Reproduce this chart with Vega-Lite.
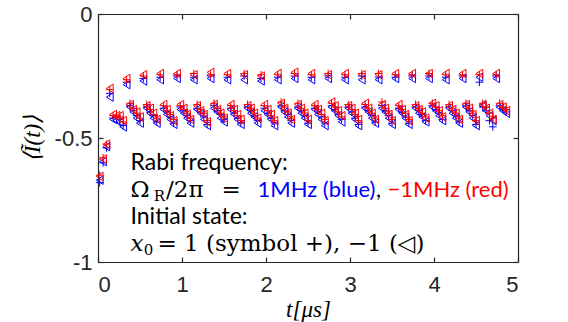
{
  "$schema": "https://vega.github.io/schema/vega-lite/v6.json",
  "width": 420,
  "height": 248,
  "autosize": {"type": "none"},
  "padding": {"left": 98, "top": 14, "right": 50, "bottom": 60},
  "background": "white",
  "config": {
    "view": {"stroke": null},
    "axis": {
      "grid": false,
      "domainColor": "#262626",
      "domainWidth": 1.2,
      "tickColor": "#262626",
      "tickWidth": 1.2,
      "tickSize": -5,
      "labelColor": "#262626",
      "labelFont": "Liberation Sans",
      "labelFontSize": 22,
      "titleColor": "#000000",
      "titleFont": "Liberation Serif",
      "titleFontSize": 23,
      "titleFontWeight": "normal",
      "titleFontStyle": "italic"
    }
  },
  "datasets": {
    "series": [
      {"t":0.02,"bp":-0.68,"bt":-0.67,"rp":-0.65,"rt":-0.655},
      {"t":0.06,"bp":-0.60,"bt":-0.595,"rp":-0.58,"rt":-0.585},
      {"t":0.10,"bp":-0.54,"bt":-0.535,"rp":-0.525,"rt":-0.525},
      {"t":0.14,"bp":-0.32,"bt":-0.335,"rp":-0.305,"rt":-0.30},
      {"t":0.18,"bp":-0.42,"bt":-0.425,"rp":-0.41,"rt":-0.405},
      {"t":0.22,"bp":-0.415,"bt":-0.43,"rp":-0.41,"rt":-0.41},
      {"t":0.26,"bp":-0.425,"bt":-0.435,"rp":-0.415,"rt":-0.41},
      {"t":0.30,"bp":-0.45,"bt":-0.455,"rp":-0.435,"rt":-0.43},
      {"t":0.34,"bp":-0.275,"bt":-0.285,"rp":-0.265,"rt":-0.26},
      {"t":0.38,"bp":-0.37,"bt":-0.375,"rp":-0.36,"rt":-0.365},
      {"t":0.42,"bp":-0.39,"bt":-0.395,"rp":-0.38,"rt":-0.385},
      {"t":0.46,"bp":-0.41,"bt":-0.42,"rp":-0.40,"rt":-0.395},
      {"t":0.50,"bp":-0.43,"bt":-0.44,"rp":-0.42,"rt":-0.415},
      {"t":0.54,"bp":-0.26,"bt":-0.27,"rp":-0.25,"rt":-0.245},
      {"t":0.58,"bp":-0.375,"bt":-0.38,"rp":-0.365,"rt":-0.37},
      {"t":0.62,"bp":-0.395,"bt":-0.40,"rp":-0.385,"rt":-0.38},
      {"t":0.66,"bp":-0.41,"bt":-0.42,"rp":-0.405,"rt":-0.40},
      {"t":0.70,"bp":-0.435,"bt":-0.44,"rp":-0.42,"rt":-0.425},
      {"t":0.74,"bp":-0.255,"bt":-0.265,"rp":-0.245,"rt":-0.24},
      {"t":0.78,"bp":-0.38,"bt":-0.385,"rp":-0.37,"rt":-0.365},
      {"t":0.82,"bp":-0.395,"bt":-0.405,"rp":-0.39,"rt":-0.385},
      {"t":0.86,"bp":-0.415,"bt":-0.425,"rp":-0.405,"rt":-0.41},
      {"t":0.90,"bp":-0.44,"bt":-0.445,"rp":-0.425,"rt":-0.43},
      {"t":0.94,"bp":-0.25,"bt":-0.26,"rp":-0.245,"rt":-0.24},
      {"t":0.98,"bp":-0.375,"bt":-0.385,"rp":-0.37,"rt":-0.365},
      {"t":1.02,"bp":-0.39,"bt":-0.40,"rp":-0.385,"rt":-0.38},
      {"t":1.06,"bp":-0.41,"bt":-0.42,"rp":-0.40,"rt":-0.405},
      {"t":1.10,"bp":-0.43,"bt":-0.44,"rp":-0.42,"rt":-0.425},
      {"t":1.14,"bp":-0.255,"bt":-0.265,"rp":-0.24,"rt":-0.245},
      {"t":1.18,"bp":-0.38,"bt":-0.385,"rp":-0.365,"rt":-0.37},
      {"t":1.22,"bp":-0.395,"bt":-0.40,"rp":-0.385,"rt":-0.39},
      {"t":1.26,"bp":-0.415,"bt":-0.425,"rp":-0.40,"rt":-0.405},
      {"t":1.30,"bp":-0.445,"bt":-0.45,"rp":-0.43,"rt":-0.435},
      {"t":1.34,"bp":-0.25,"bt":-0.26,"rp":-0.245,"rt":-0.235},
      {"t":1.38,"bp":-0.37,"bt":-0.38,"rp":-0.36,"rt":-0.365},
      {"t":1.42,"bp":-0.39,"bt":-0.395,"rp":-0.38,"rt":-0.385},
      {"t":1.46,"bp":-0.405,"bt":-0.42,"rp":-0.40,"rt":-0.40},
      {"t":1.50,"bp":-0.425,"bt":-0.435,"rp":-0.415,"rt":-0.42},
      {"t":1.54,"bp":-0.255,"bt":-0.265,"rp":-0.245,"rt":-0.24},
      {"t":1.58,"bp":-0.38,"bt":-0.385,"rp":-0.37,"rt":-0.365},
      {"t":1.62,"bp":-0.40,"bt":-0.405,"rp":-0.39,"rt":-0.385},
      {"t":1.66,"bp":-0.42,"bt":-0.425,"rp":-0.41,"rt":-0.405},
      {"t":1.70,"bp":-0.44,"bt":-0.445,"rp":-0.43,"rt":-0.425},
      {"t":1.74,"bp":-0.25,"bt":-0.265,"rp":-0.24,"rt":-0.245},
      {"t":1.78,"bp":-0.375,"bt":-0.38,"rp":-0.365,"rt":-0.37},
      {"t":1.82,"bp":-0.39,"bt":-0.40,"rp":-0.38,"rt":-0.38},
      {"t":1.86,"bp":-0.41,"bt":-0.415,"rp":-0.40,"rt":-0.40},
      {"t":1.90,"bp":-0.43,"bt":-0.44,"rp":-0.42,"rt":-0.42},
      {"t":1.94,"bp":-0.26,"bt":-0.27,"rp":-0.245,"rt":-0.25},
      {"t":1.98,"bp":-0.38,"bt":-0.39,"rp":-0.37,"rt":-0.365},
      {"t":2.02,"bp":-0.40,"bt":-0.405,"rp":-0.39,"rt":-0.385},
      {"t":2.06,"bp":-0.42,"bt":-0.425,"rp":-0.41,"rt":-0.405},
      {"t":2.10,"bp":-0.44,"bt":-0.45,"rp":-0.43,"rt":-0.43},
      {"t":2.14,"bp":-0.255,"bt":-0.265,"rp":-0.245,"rt":-0.24},
      {"t":2.18,"bp":-0.37,"bt":-0.375,"rp":-0.355,"rt":-0.36},
      {"t":2.22,"bp":-0.39,"bt":-0.395,"rp":-0.375,"rt":-0.38},
      {"t":2.26,"bp":-0.405,"bt":-0.415,"rp":-0.395,"rt":-0.40},
      {"t":2.30,"bp":-0.43,"bt":-0.44,"rp":-0.42,"rt":-0.425},
      {"t":2.34,"bp":-0.25,"bt":-0.26,"rp":-0.24,"rt":-0.235},
      {"t":2.38,"bp":-0.375,"bt":-0.38,"rp":-0.36,"rt":-0.365},
      {"t":2.42,"bp":-0.39,"bt":-0.40,"rp":-0.38,"rt":-0.38},
      {"t":2.46,"bp":-0.41,"bt":-0.42,"rp":-0.40,"rt":-0.40},
      {"t":2.50,"bp":-0.44,"bt":-0.445,"rp":-0.43,"rt":-0.425},
      {"t":2.54,"bp":-0.255,"bt":-0.265,"rp":-0.245,"rt":-0.24},
      {"t":2.58,"bp":-0.38,"bt":-0.385,"rp":-0.37,"rt":-0.365},
      {"t":2.62,"bp":-0.395,"bt":-0.405,"rp":-0.385,"rt":-0.385},
      {"t":2.66,"bp":-0.415,"bt":-0.425,"rp":-0.405,"rt":-0.40},
      {"t":2.70,"bp":-0.44,"bt":-0.45,"rp":-0.425,"rt":-0.43},
      {"t":2.74,"bp":-0.25,"bt":-0.26,"rp":-0.24,"rt":-0.245},
      {"t":2.78,"bp":-0.37,"bt":-0.375,"rp":-0.36,"rt":-0.355},
      {"t":2.82,"bp":-0.385,"bt":-0.39,"rp":-0.375,"rt":-0.37},
      {"t":2.86,"bp":-0.405,"bt":-0.41,"rp":-0.395,"rt":-0.39},
      {"t":2.90,"bp":-0.425,"bt":-0.435,"rp":-0.415,"rt":-0.41},
      {"t":2.94,"bp":-0.255,"bt":-0.265,"rp":-0.245,"rt":-0.24},
      {"t":2.98,"bp":-0.375,"bt":-0.38,"rp":-0.365,"rt":-0.37},
      {"t":3.02,"bp":-0.395,"bt":-0.40,"rp":-0.385,"rt":-0.38},
      {"t":3.06,"bp":-0.42,"bt":-0.425,"rp":-0.405,"rt":-0.40},
      {"t":3.10,"bp":-0.445,"bt":-0.45,"rp":-0.43,"rt":-0.425},
      {"t":3.14,"bp":-0.25,"bt":-0.265,"rp":-0.24,"rt":-0.245},
      {"t":3.18,"bp":-0.375,"bt":-0.38,"rp":-0.365,"rt":-0.36},
      {"t":3.22,"bp":-0.39,"bt":-0.395,"rp":-0.38,"rt":-0.38},
      {"t":3.26,"bp":-0.41,"bt":-0.42,"rp":-0.40,"rt":-0.40},
      {"t":3.30,"bp":-0.435,"bt":-0.44,"rp":-0.42,"rt":-0.425},
      {"t":3.34,"bp":-0.255,"bt":-0.265,"rp":-0.24,"rt":-0.245},
      {"t":3.38,"bp":-0.37,"bt":-0.38,"rp":-0.355,"rt":-0.365},
      {"t":3.42,"bp":-0.39,"bt":-0.395,"rp":-0.38,"rt":-0.38},
      {"t":3.46,"bp":-0.41,"bt":-0.42,"rp":-0.40,"rt":-0.405},
      {"t":3.50,"bp":-0.44,"bt":-0.445,"rp":-0.425,"rt":-0.43},
      {"t":3.54,"bp":-0.255,"bt":-0.26,"rp":-0.245,"rt":-0.24},
      {"t":3.58,"bp":-0.38,"bt":-0.385,"rp":-0.37,"rt":-0.365},
      {"t":3.62,"bp":-0.395,"bt":-0.40,"rp":-0.385,"rt":-0.385},
      {"t":3.66,"bp":-0.415,"bt":-0.42,"rp":-0.40,"rt":-0.405},
      {"t":3.70,"bp":-0.44,"bt":-0.445,"rp":-0.425,"rt":-0.43},
      {"t":3.74,"bp":-0.25,"bt":-0.26,"rp":-0.245,"rt":-0.24},
      {"t":3.78,"bp":-0.375,"bt":-0.38,"rp":-0.365,"rt":-0.37},
      {"t":3.82,"bp":-0.39,"bt":-0.40,"rp":-0.38,"rt":-0.385},
      {"t":3.86,"bp":-0.405,"bt":-0.415,"rp":-0.40,"rt":-0.395},
      {"t":3.90,"bp":-0.43,"bt":-0.435,"rp":-0.415,"rt":-0.42},
      {"t":3.94,"bp":-0.25,"bt":-0.26,"rp":-0.24,"rt":-0.24},
      {"t":3.98,"bp":-0.37,"bt":-0.375,"rp":-0.36,"rt":-0.36},
      {"t":4.02,"bp":-0.385,"bt":-0.39,"rp":-0.375,"rt":-0.37},
      {"t":4.06,"bp":-0.40,"bt":-0.41,"rp":-0.39,"rt":-0.39},
      {"t":4.10,"bp":-0.425,"bt":-0.43,"rp":-0.41,"rt":-0.415},
      {"t":4.14,"bp":-0.255,"bt":-0.265,"rp":-0.245,"rt":-0.24},
      {"t":4.18,"bp":-0.375,"bt":-0.38,"rp":-0.365,"rt":-0.37},
      {"t":4.22,"bp":-0.39,"bt":-0.40,"rp":-0.38,"rt":-0.385},
      {"t":4.26,"bp":-0.41,"bt":-0.42,"rp":-0.40,"rt":-0.40},
      {"t":4.30,"bp":-0.435,"bt":-0.44,"rp":-0.42,"rt":-0.425},
      {"t":4.34,"bp":-0.25,"bt":-0.26,"rp":-0.245,"rt":-0.24},
      {"t":4.38,"bp":-0.37,"bt":-0.375,"rp":-0.36,"rt":-0.365},
      {"t":4.42,"bp":-0.39,"bt":-0.395,"rp":-0.38,"rt":-0.38},
      {"t":4.46,"bp":-0.41,"bt":-0.42,"rp":-0.40,"rt":-0.405},
      {"t":4.50,"bp":-0.445,"bt":-0.45,"rp":-0.43,"rt":-0.43},
      {"t":4.54,"bp":-0.275,"bt":-0.255,"rp":-0.245,"rt":-0.24},
      {"t":4.58,"bp":-0.375,"bt":-0.37,"rp":-0.36,"rt":-0.365},
      {"t":4.62,"bp":-0.39,"bt":-0.39,"rp":-0.375,"rt":-0.38},
      {"t":4.66,"bp":-0.43,"bt":-0.41,"rp":-0.40,"rt":-0.40},
      {"t":4.70,"bp":-0.455,"bt":-0.43,"rp":-0.42,"rt":-0.425},
      {"t":4.74,"bp":-0.25,"bt":-0.26,"rp":-0.245,"rt":-0.24},
      {"t":4.78,"bp":-0.37,"bt":-0.375,"rp":-0.36,"rt":-0.365},
      {"t":4.82,"bp":-0.38,"bt":-0.39,"rp":-0.375,"rt":-0.375},
      {"t":4.86,"bp":-0.395,"bt":-0.40,"rp":-0.385,"rt":-0.39}
    ]
  },
  "resolve": {"axis": {"x": "independent", "y": "independent"}},
  "layer": [
    {
      "data": {"name": "series"},
      "mark": {"type": "point", "shape": "M-1,0L1,0M0,-1L0,1", "size": 60, "filled": false, "color": "#0000FF", "strokeWidth": 1, "opacity": 1},
      "encoding": {
        "x": {"field": "t", "type": "quantitative", "scale": {"domain": [0, 5], "nice": false},
              "axis": {"orient": "bottom", "values": [0, 1, 2, 3, 4, 5], "labelPadding": 17, "title": "t[μs]", "titlePadding": 3}},
        "y": {"field": "bp", "type": "quantitative", "scale": {"domain": [-1, 0], "nice": false, "zero": false},
              "axis": {"orient": "left", "values": [-1, -0.5, 0], "labelPadding": 11, "labelExpr": "replace(format(datum.value, '~g'), '\u2212', '-')", "title": "⟨Ĩ(t)⟩", "titlePadding": 10}}
      }
    },
    {
      "data": {"name": "series"},
      "mark": {"type": "point", "shape": "M0.8,-1L-0.8,0L0.8,1Z", "size": 72, "filled": false, "color": "#0000FF", "strokeWidth": 1, "opacity": 1},
      "encoding": {
        "x": {"field": "t", "type": "quantitative", "scale": {"domain": [0, 5], "nice": false}, "axis": null},
        "y": {"field": "bt", "type": "quantitative", "scale": {"domain": [-1, 0], "nice": false, "zero": false}, "axis": null}
      }
    },
    {
      "data": {"name": "series"},
      "mark": {"type": "point", "shape": "M-1,0L1,0M0,-1L0,1", "size": 60, "filled": false, "color": "#FF0000", "strokeWidth": 1, "opacity": 1},
      "encoding": {
        "x": {"field": "t", "type": "quantitative", "scale": {"domain": [0, 5], "nice": false}, "axis": null},
        "y": {"field": "rp", "type": "quantitative", "scale": {"domain": [-1, 0], "nice": false, "zero": false}, "axis": null}
      }
    },
    {
      "data": {"name": "series"},
      "mark": {"type": "point", "shape": "M0.8,-1L-0.8,0L0.8,1Z", "size": 72, "filled": false, "color": "#FF0000", "strokeWidth": 1, "opacity": 1},
      "encoding": {
        "x": {"field": "t", "type": "quantitative", "scale": {"domain": [0, 5], "nice": false},
              "axis": {"orient": "top", "values": [0, 1, 2, 3, 4, 5], "labels": false, "title": null}},
        "y": {"field": "rt", "type": "quantitative", "scale": {"domain": [-1, 0], "nice": false, "zero": false},
              "axis": {"orient": "right", "values": [-1, -0.5, 0], "labels": false, "title": null}}
      }
    },
    {
      "data": {"values": [
        {"x": 0.387, "y": -0.629, "text": "Rabi frequency:"},
        {"x": 0.387, "y": -0.847, "text": "Initial state:"}
      ]},
      "mark": {"type": "text", "align": "left", "baseline": "alphabetic", "font": "Lato", "fontSize": 23, "color": "#000000"},
      "encoding": {
        "x": {"field": "x", "type": "quantitative", "axis": null},
        "y": {"field": "y", "type": "quantitative", "axis": null},
        "text": {"field": "text"}
      }
    },
    {
      "data": {"values": [{"x": 3.31, "y": -0.738, "text": ","}]},
      "mark": {"type": "text", "align": "left", "baseline": "alphabetic", "font": "Lato", "fontSize": 22, "color": "#000000"},
      "encoding": {
        "x": {"field": "x", "type": "quantitative", "axis": null},
        "y": {"field": "y", "type": "quantitative", "axis": null},
        "text": {"field": "text"}
      }
    },
    {
      "data": {"values": [{"x": 1.899, "y": -0.738, "text": "1MHz (blue)"}]},
      "mark": {"type": "text", "align": "left", "baseline": "alphabetic", "font": "Lato", "fontSize": 22, "color": "#0000FF"},
      "encoding": {
        "x": {"field": "x", "type": "quantitative", "axis": null},
        "y": {"field": "y", "type": "quantitative", "axis": null},
        "text": {"field": "text"}
      }
    },
    {
      "data": {"values": [{"x": 3.446, "y": -0.738, "text": "−1MHz (red)"}]},
      "mark": {"type": "text", "align": "left", "baseline": "alphabetic", "font": "Lato", "fontSize": 22, "color": "#FF0000"},
      "encoding": {
        "x": {"field": "x", "type": "quantitative", "axis": null},
        "y": {"field": "y", "type": "quantitative", "axis": null},
        "text": {"field": "text"}
      }
    },
    {
      "data": {"values": [
        {"x": 0.387, "y": -0.738, "text": "Ω"},
        {"x": 0.81, "y": -0.738, "text": "/2π"},
        {"x": 1.47, "y": -0.738, "text": "="},
        {"x": 0.708, "y": -0.956, "text": "= 1 (symbol +), −1 (◁)"}
      ]},
      "mark": {"type": "text", "align": "left", "baseline": "alphabetic", "font": "DejaVu Serif", "fontSize": 23, "color": "#000000"},
      "encoding": {
        "x": {"field": "x", "type": "quantitative", "axis": null},
        "y": {"field": "y", "type": "quantitative", "axis": null},
        "text": {"field": "text"}
      }
    },
    {
      "data": {"values": [{"x": 0.387, "y": -0.956, "text": "x"}]},
      "mark": {"type": "text", "align": "left", "baseline": "alphabetic", "font": "DejaVu Serif", "fontSize": 23, "fontStyle": "italic", "color": "#000000"},
      "encoding": {
        "x": {"field": "x", "type": "quantitative", "axis": null},
        "y": {"field": "y", "type": "quantitative", "axis": null},
        "text": {"field": "text"}
      }
    },
    {
      "data": {"values": [
        {"x": 0.665, "y": -0.754, "text": "R"},
        {"x": 0.545, "y": -0.972, "text": "0"}
      ]},
      "mark": {"type": "text", "align": "left", "baseline": "alphabetic", "font": "DejaVu Serif", "fontSize": 15, "color": "#000000"},
      "encoding": {
        "x": {"field": "x", "type": "quantitative", "axis": null},
        "y": {"field": "y", "type": "quantitative", "axis": null},
        "text": {"field": "text"}
      }
    }
  ]
}
